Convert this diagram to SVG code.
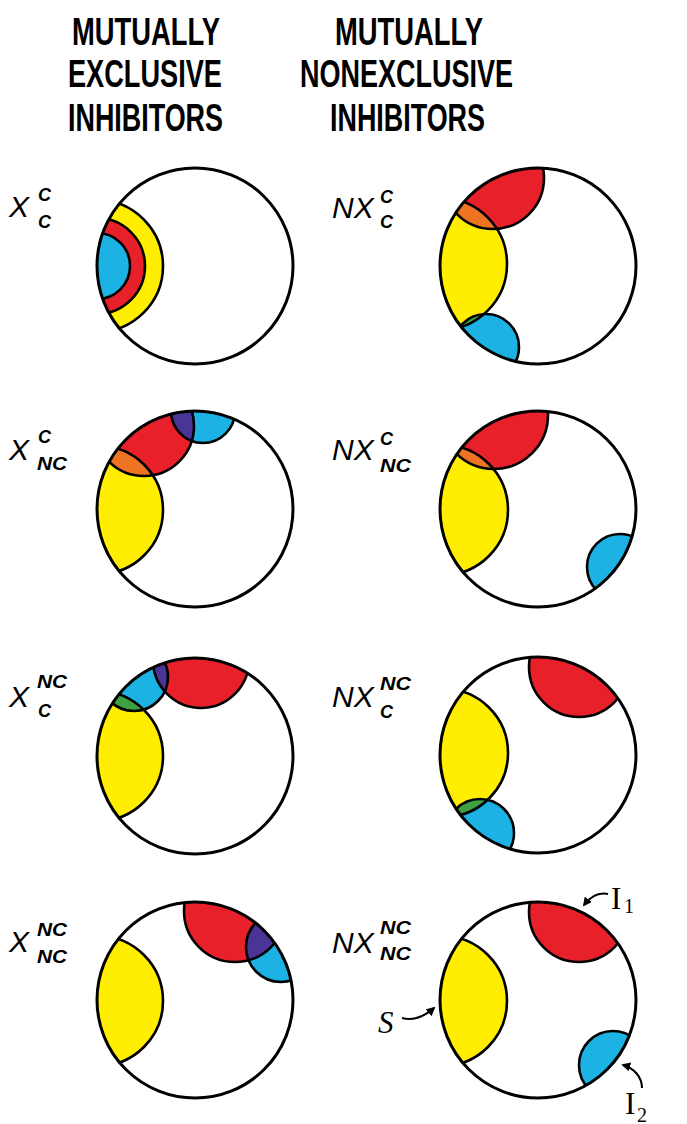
<svg xmlns="http://www.w3.org/2000/svg" width="687" height="1124" viewBox="0 0 687 1124">
<style>
.hd{font-family:"Liberation Sans",Arial,sans-serif;font-weight:bold;font-size:39px;fill:#000;text-anchor:middle}
.lx{font-family:"Liberation Sans",Arial,sans-serif;font-style:italic;font-size:30px;fill:#000}
.ls{font-family:"Liberation Sans",Arial,sans-serif;font-style:italic;font-weight:bold;font-size:18px;fill:#000}
.tl{font-family:"Liberation Serif","Times New Roman",serif;font-size:31px;fill:#000}
.tls{font-family:"Liberation Serif","Times New Roman",serif;font-size:20px;fill:#000}
.m{fill:none;stroke:#000;stroke-width:3}
.e{fill:none;stroke:#000;stroke-width:2.6}
.y{fill:#FFEE00}
.r{fill:#E8202A}
.b{fill:#1CB2E4}
.o{fill:#EE7424}
.g{fill:#3FA043}
.p{fill:#4A3596}
.ar{fill:none;stroke:#000;stroke-width:2}
</style>
<defs>
<clipPath id="cm"><circle cx="0" cy="0" r="98"/></clipPath>
<clipPath id="p2S"><circle cx="-97" cy="-2" r="66"/></clipPath>
<clipPath id="p3S"><circle cx="-96" cy="1" r="64"/></clipPath>
<clipPath id="p3I1"><circle cx="-51" cy="-83" r="50"/></clipPath>
<clipPath id="p4S"><circle cx="-95" cy="1" r="65"/></clipPath>
<clipPath id="p5S"><circle cx="-97" cy="0" r="65"/></clipPath>
<clipPath id="p5I1"><circle cx="6" cy="-96" r="48"/></clipPath>
<clipPath id="p6S"><circle cx="-94" cy="-2" r="64"/></clipPath>
<clipPath id="p7I1"><circle cx="40" cy="-89" r="51"/></clipPath>
<marker id="ah" viewBox="0 0 10 10" refX="8" refY="5" markerWidth="9" markerHeight="9" markerUnits="userSpaceOnUse" orient="auto">
<path d="M0,0 L10,5 L0,10 Z" fill="#000"/>
</marker>
</defs>

<g id="headers">
<text class="hd" x="146" y="45" textLength="148" lengthAdjust="spacingAndGlyphs">MUTUALLY</text>
<text class="hd" x="145" y="87" textLength="154" lengthAdjust="spacingAndGlyphs">EXCLUSIVE</text>
<text class="hd" x="145.5" y="131" textLength="155" lengthAdjust="spacingAndGlyphs">INHIBITORS</text>
<text class="hd" x="409" y="45" textLength="148" lengthAdjust="spacingAndGlyphs">MUTUALLY</text>
<text class="hd" x="406.5" y="87" textLength="213" lengthAdjust="spacingAndGlyphs">NONEXCLUSIVE</text>
<text class="hd" x="407.5" y="131" textLength="155" lengthAdjust="spacingAndGlyphs">INHIBITORS</text>
</g>

<g id="row-labels">
<text class="lx" x="9" y="217">X</text><text class="ls" x="38" y="201">C</text><text class="ls" x="38" y="228">C</text>
<text class="lx" x="9" y="460">X</text><text class="ls" x="38" y="443">C</text><text class="ls" x="37" y="470" textLength="30" lengthAdjust="spacingAndGlyphs">NC</text>
<text class="lx" x="9" y="707">X</text><text class="ls" x="37" y="688" textLength="30" lengthAdjust="spacingAndGlyphs">NC</text><text class="ls" x="38" y="717">C</text>
<text class="lx" x="9" y="952">X</text><text class="ls" x="37" y="936" textLength="30" lengthAdjust="spacingAndGlyphs">NC</text><text class="ls" x="37" y="963" textLength="30" lengthAdjust="spacingAndGlyphs">NC</text>
<text class="lx" x="332" y="218">NX</text><text class="ls" x="380" y="203">C</text><text class="ls" x="380" y="228">C</text>
<text class="lx" x="332" y="460">NX</text><text class="ls" x="380" y="445">C</text><text class="ls" x="380" y="472" textLength="31" lengthAdjust="spacingAndGlyphs">NC</text>
<text class="lx" x="332" y="707">NX</text><text class="ls" x="380" y="690" textLength="31" lengthAdjust="spacingAndGlyphs">NC</text><text class="ls" x="380" y="718">C</text>
<text class="lx" x="332" y="953">NX</text><text class="ls" x="380" y="934" textLength="31" lengthAdjust="spacingAndGlyphs">NC</text><text class="ls" x="380" y="960" textLength="31" lengthAdjust="spacingAndGlyphs">NC</text>
</g>

<g id="x-c-c" transform="translate(195,266)">
<g clip-path="url(#cm)">
<circle class="y" cx="-98" cy="0" r="66"/>
<circle class="r" cx="-98" cy="0" r="48"/>
<circle class="b" cx="-98" cy="0" r="33"/>
<circle class="e" cx="-98" cy="0" r="66"/>
<circle class="e" cx="-98" cy="0" r="48"/>
<circle class="e" cx="-98" cy="0" r="33"/>
</g>
<circle class="m" cx="0" cy="0" r="98"/>
</g>

<g id="nx-c-c" transform="translate(538,266)">
<g clip-path="url(#cm)">
<circle class="y" cx="-97" cy="-2" r="66"/>
<circle class="r" cx="-45" cy="-88" r="51"/>
<circle class="b" cx="-52" cy="81" r="33"/>
<circle class="o" cx="-45" cy="-88" r="51" clip-path="url(#p2S)"/>
<circle class="g" cx="-52" cy="81" r="33" clip-path="url(#p2S)"/>
<circle class="e" cx="-97" cy="-2" r="66"/>
<circle class="e" cx="-45" cy="-88" r="51"/>
<circle class="e" cx="-52" cy="81" r="33"/>
</g>
<circle class="m" cx="0" cy="0" r="98"/>
</g>

<g id="x-nc-c" transform="translate(195,509)">
<g clip-path="url(#cm)">
<circle class="y" cx="-96" cy="1" r="64"/>
<circle class="r" cx="-51" cy="-83" r="50"/>
<circle class="b" cx="8" cy="-98" r="32"/>
<circle class="o" cx="-51" cy="-83" r="50" clip-path="url(#p3S)"/>
<circle class="p" cx="8" cy="-98" r="32" clip-path="url(#p3I1)"/>
<circle class="e" cx="-96" cy="1" r="64"/>
<circle class="e" cx="-51" cy="-83" r="50"/>
<circle class="e" cx="8" cy="-98" r="32"/>
</g>
<circle class="m" cx="0" cy="0" r="98"/>
</g>

<g id="nx-nc-c" transform="translate(538,509)">
<g clip-path="url(#cm)">
<circle class="y" cx="-95" cy="1" r="65"/>
<circle class="r" cx="-44" cy="-94" r="54"/>
<circle class="b" cx="82" cy="58" r="33"/>
<circle class="o" cx="-44" cy="-94" r="54" clip-path="url(#p4S)"/>
<circle class="e" cx="-95" cy="1" r="65"/>
<circle class="e" cx="-44" cy="-94" r="54"/>
<circle class="e" cx="82" cy="58" r="33"/>
</g>
<circle class="m" cx="0" cy="0" r="98"/>
</g>

<g id="x-c-nc" transform="translate(195,756)">
<g clip-path="url(#cm)">
<circle class="y" cx="-97" cy="0" r="65"/>
<circle class="r" cx="6" cy="-96" r="48"/>
<circle class="b" cx="-61" cy="-79" r="34"/>
<circle class="g" cx="-61" cy="-79" r="34" clip-path="url(#p5S)"/>
<circle class="p" cx="-61" cy="-79" r="34" clip-path="url(#p5I1)"/>
<circle class="e" cx="-97" cy="0" r="65"/>
<circle class="e" cx="6" cy="-96" r="48"/>
<circle class="e" cx="-61" cy="-79" r="34"/>
</g>
<circle class="m" cx="0" cy="0" r="98"/>
</g>

<g id="nx-c-nc" transform="translate(538,755)">
<g clip-path="url(#cm)">
<circle class="y" cx="-94" cy="-2" r="64"/>
<circle class="r" cx="41" cy="-88" r="50"/>
<circle class="b" cx="-58" cy="78" r="34"/>
<circle class="g" cx="-58" cy="78" r="34" clip-path="url(#p6S)"/>
<circle class="e" cx="-94" cy="-2" r="64"/>
<circle class="e" cx="41" cy="-88" r="50"/>
<circle class="e" cx="-58" cy="78" r="34"/>
</g>
<circle class="m" cx="0" cy="0" r="98"/>
</g>

<g id="x-nc-nc" transform="translate(195,1000)">
<g clip-path="url(#cm)">
<circle class="y" cx="-97" cy="1" r="65"/>
<circle class="r" cx="40" cy="-89" r="51"/>
<circle class="b" cx="86" cy="-53" r="35"/>
<circle class="p" cx="86" cy="-53" r="35" clip-path="url(#p7I1)"/>
<circle class="e" cx="-97" cy="1" r="65"/>
<circle class="e" cx="40" cy="-89" r="51"/>
<circle class="e" cx="86" cy="-53" r="35"/>
</g>
<circle class="m" cx="0" cy="0" r="98"/>
</g>

<g id="nx-nc-nc" transform="translate(538,1000)">
<g clip-path="url(#cm)">
<circle class="y" cx="-96" cy="1" r="65"/>
<circle class="r" cx="41" cy="-88" r="50"/>
<circle class="b" cx="75" cy="65" r="34"/>
<circle class="e" cx="-96" cy="1" r="65"/>
<circle class="e" cx="41" cy="-88" r="50"/>
<circle class="e" cx="75" cy="65" r="34"/>
</g>
<circle class="m" cx="0" cy="0" r="98"/>
</g>

<g id="component-labels">
<text class="tl" x="611" y="909">I</text><text class="tls" x="624" y="913">1</text>
<text class="tl" x="625" y="1114">I</text><text class="tls" x="637" y="1122">2</text>
<text class="tl" x="378" y="1033" font-style="italic" font-size="40">S</text>
</g>

<g id="connectors">
<path class="ar" d="M608,894 C598,892 590,897 584,905" marker-end="url(#ah)"/>
<path class="ar" d="M402,1018 C414,1021 425,1016 434,1008" marker-end="url(#ah)"/>
<path class="ar" d="M642,1088 C642,1077 634,1068 623,1065" marker-end="url(#ah)"/>
</g>
</svg>
